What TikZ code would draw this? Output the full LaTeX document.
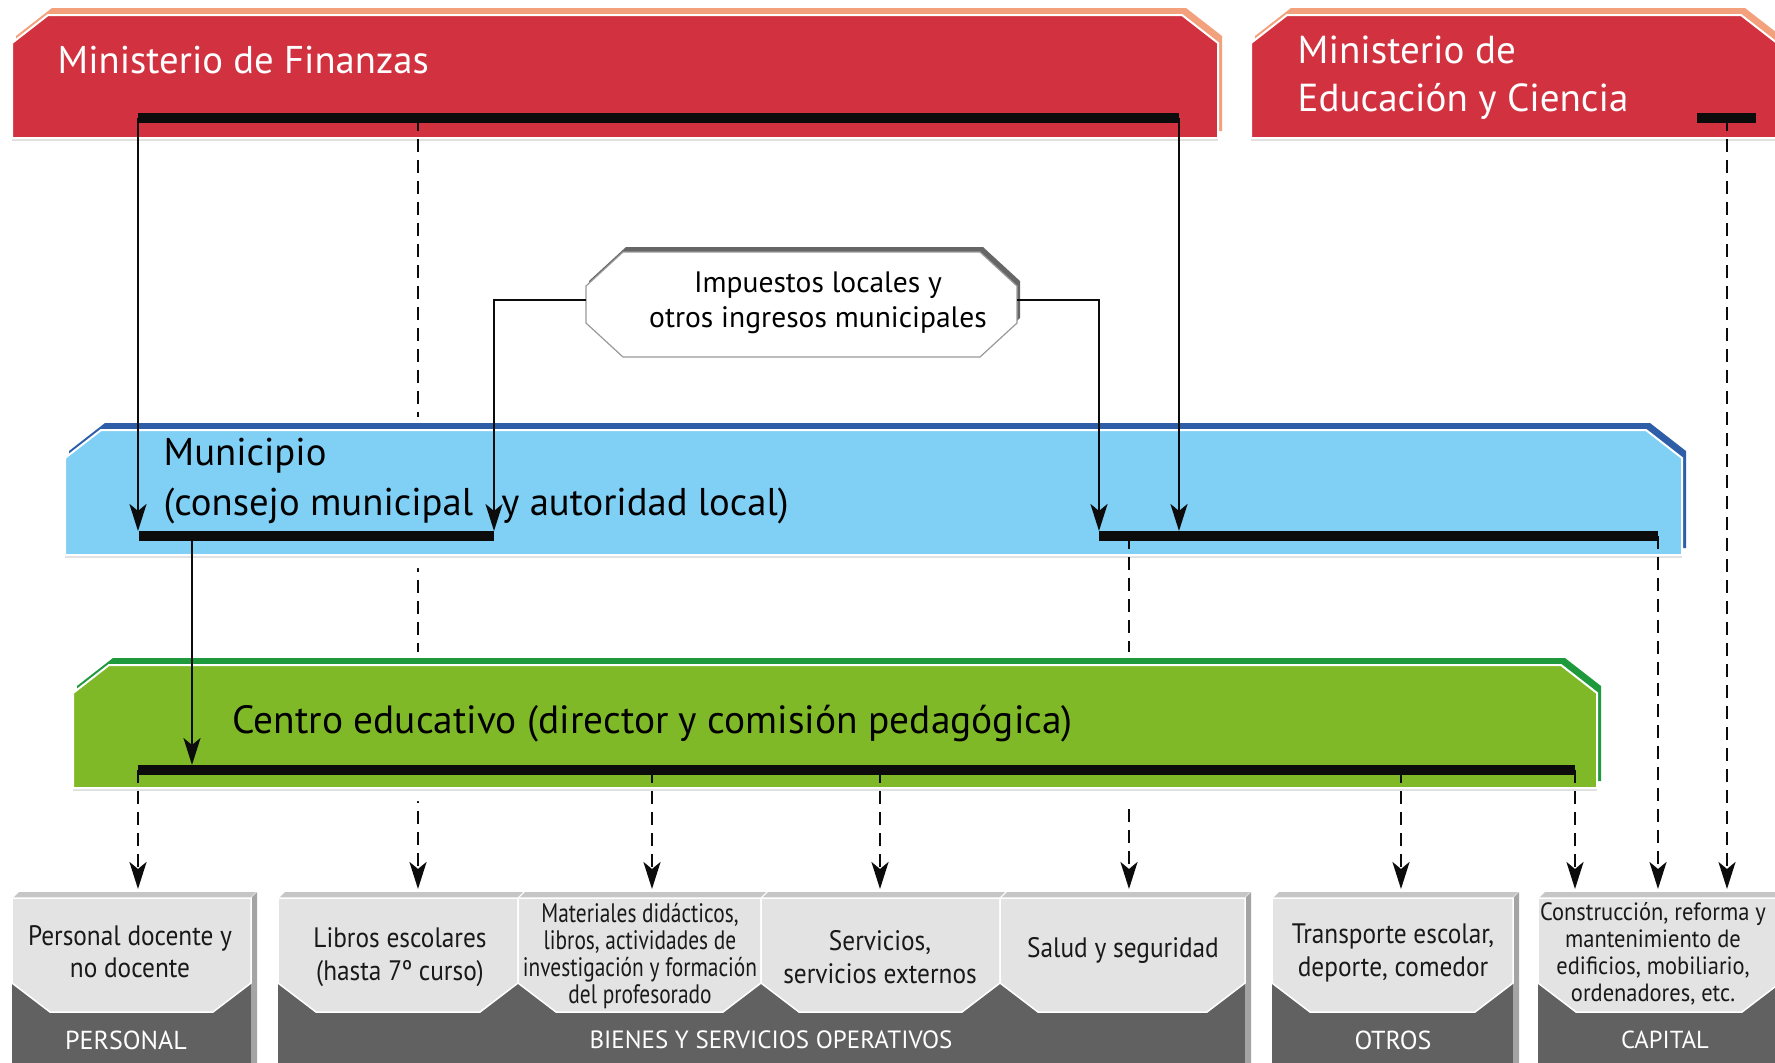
\documentclass[tikz,border=0pt]{standalone}
\usepackage{fontspec}
\setmainfont{PT Sans}
\newfontfamily\narrowfont[FakeStretch=0.9]{PT Sans}
\newfontfamily\narrowerfont[FakeStretch=0.8]{PT Sans}
\usetikzlibrary{arrows.meta}

\definecolor{finred}{HTML}{D2323F}
\definecolor{finedge}{HTML}{F3A07C}
\definecolor{munblue}{HTML}{80CFF4}
\definecolor{munedge}{HTML}{2F5EA8}
\definecolor{cengreen}{HTML}{7FB927}
\definecolor{cenedge}{HTML}{1E9A3C}
\definecolor{facegray}{HTML}{E3E3E3}
\definecolor{topgray}{HTML}{C6C6C6}
\definecolor{sidegray}{HTML}{A4A4A4}
\definecolor{bandgray}{HTML}{616161}
\definecolor{barblack}{HTML}{0C0C0C}

\tikzstyle{bar} = [line width=0.1cm, barblack]
\tikzstyle{flow} = [-{Stealth[length=0.27cm, width=0.17cm, inset=0.07cm]}, line width=0.028cm, barblack, shorten >=0.05cm]
\tikzstyle{fund} = [flow, dash pattern=on 0.13cm off 0.08cm]
\tikzstyle{bigtext} = [inner sep=0, align=left, font=\fontsize{11.2}{14.2}\selectfont]
\tikzstyle{taxtext} = [inner sep=0, align=center, font=\fontsize{8.4}{9.7}\selectfont]
\tikzstyle{costtext} = [inner sep=0, align=center, text=black!90, font=\narrowfont\fontsize{8}{9.2}\selectfont]
\tikzstyle{costlabel} = [inner sep=0, text=white, font=\fontsize{7.4}{9}\selectfont]

% band with chamfered top corners
\newcommand{\chamtop}[4]{(#1,#2+28) -- (#1+36,#2) -- (#3-36,#2) -- (#3,#2+28) -- (#3,#4) -- (#1,#4) -- cycle}
\newcommand{\chamall}[4]{(#1,#2+34) -- (#1+37,#2) -- (#3-37,#2) -- (#3,#2+34) -- (#3,#4-34) -- (#3-37,#4) -- (#1+37,#4) -- (#1,#4-34) -- cycle}
\newcommand{\band}[6]{%
  \draw[white, line width=0.26cm] \chamtop{#1}{#2}{#3}{#4};
  \fill[black!12] (#1,#4) rectangle (#3,#4+3);
  \fill[#6, shift={(4,-7)}] \chamtop{#1}{#2}{#3}{#4};
  \filldraw[fill=#5, draw=white, line width=0.02cm] \chamtop{#1}{#2}{#3}{#4};
}
% cost boxes at the bottom
\newcommand{\costgroup}[2]{%
  \fill[bandgray] (#1,898) rectangle (#2,1075);
  \fill[sidegray] (#2,898) -- (#2+6,892) -- (#2+6,1075) -- (#2,1075) -- cycle;
}
\newcommand{\costface}[2]{%
  \fill[topgray] (#1+1,898) -- (#1+7,892) -- (#2+5,892) -- (#2-1,898) -- cycle;
  \filldraw[fill=facegray, draw=white, line width=0.015cm] (#1,898) -- (#2,898) -- (#2,983) -- (#2-38,1012) -- (#1+38,1012) -- (#1,983) -- cycle;
}

\begin{document}
\begin{tikzpicture}[x=0.01cm, y=-0.01cm]
  \useasboundingbox (0,0) rectangle (1775,1062);
  \clip (0,0) rectangle (1775,1062);

  %cost boxes
  \costgroup{12}{251}
  \costgroup{278}{1245}
  \costgroup{1272}{1513}
  \costgroup{1538}{1780}
  \costface{12}{251}
  \costface{278}{518}
  \costface{518}{761}
  \costface{761}{1000}
  \costface{1000}{1245}
  \costface{1272}{1513}
  \costface{1538}{1780}
  \coordinate (gastos) at (0,894);

  %ministries
  \band{12}{15}{1218}{138}{finred}{finedge}
  \band{1251}{15}{1777}{138}{finred}{finedge}
  \coordinate (finL) at (138,118);
  \coordinate (finT) at (418,118);
  \coordinate (finR) at (1179,118);
  \coordinate (eduL) at (1697,118);
  \coordinate (eduT) at (1727,118);
  \coordinate (eduR) at (1756,118);

  %local taxes
  \fill[black!60, shift={(3,-5)}] \chamall{586}{252}{1017}{357};
  \filldraw[fill=white, draw=black!40, line width=0.012cm] \chamall{586}{252}{1017}{357};
  \coordinate (taxW) at (586,300);
  \coordinate (taxE) at (1017,300);

  \draw[fund] (finT) -- (finT |- gastos);

  %municipality
  \band{65}{430}{1682}{555}{munblue}{munedge}
  \coordinate (munL) at (139,536);
  \coordinate (munA) at (192,536);
  \coordinate (munM) at (494,536);
  \coordinate (munN) at (1099,536);
  \coordinate (munB) at (1129,536);
  \coordinate (munR) at (1658,536);

  \draw[fund] (munB) -- (munB |- gastos);
  \draw[fund] (munR) -- (munR |- gastos);

  %school
  \band{73}{665}{1597}{788}{cengreen}{cenedge}
  \coordinate (cenL) at (138,770);
  \coordinate (cenP) at (652,770);
  \coordinate (cenQ) at (880,770);
  \coordinate (cenS) at (1401,770);
  \coordinate (cenR) at (1575,770);

  %connectors
  \draw[flow] (finL) -- (finL |- munL);
  \draw[flow] (finR) -- (finR |- munN);
  \draw[flow] (taxW) -| (munM);
  \draw[flow] (taxE) -| (munN);
  \draw[flow] (munA) -- (munA |- cenL);
  \foreach \tap in {cenL, cenP, cenQ, cenS, cenR}
    \draw[fund] (\tap) -- (\tap |- gastos);
  \draw[fund] (eduT) -- (eduT |- gastos);

  \draw[bar] (finL) -- (finR);
  \draw[bar] (eduL) -- (eduR);
  \draw[bar] (munL) -- (munM);
  \draw[bar] (munN) -- (munR);
  \draw[bar] (cenL) -- (cenR);

  %texts
  \node[bigtext, text=white, anchor=base west, font=\fontsize{11}{14}\selectfont] (finText) at (57,73) {Ministerio de Finanzas};
  \node[bigtext, text=white, anchor=base west, font=\fontsize{11.1}{13.5}\selectfont] (eduText) at (1297,111) {Ministerio de\\Educación y Ciencia};
  \node[bigtext, anchor=base west, font=\fontsize{11}{14.2}\selectfont] (munText) at (163,515) {Municipio\\(consejo municipal\hspace{0.18cm} y autoridad local)};
  \node[bigtext, anchor=base west] (cenText) at (232,733) {Centro educativo (director y comisión pedagógica)};
  \node[taxtext, anchor=base] (taxText) at (818,327) {Impuestos locales y\\otros ingresos municipales};

  \node[costtext] (personal) at (130,952) {Personal docente y\\no docente};
  \node[costtext] (libros) at (400,957) {Libros escolares\\(hasta 7º curso)};
  \node[costtext, font=\narrowerfont\fontsize{7.6}{7.7}\selectfont] (materiales) at (640,956) {Materiales didácticos,\\libros, actividades de\\investigación y formación\\del profesorado};
  \node[costtext] (servicios) at (880,957) {Servicios,\\servicios externos};
  \node[costtext] (salud) at (1123,950) {Salud y seguridad};
  \node[costtext] (transporte) at (1393,953) {Transporte escolar,\\deporte, comedor};
  \node[costtext, font=\narrowfont\fontsize{7.1}{7.7}\selectfont] (capital) at (1653,954) {Construcción, reforma y\\mantenimiento de\\edificios, mobiliario,\\ordenadores, etc.};

  \node[costlabel] (personalLbl) at (126,1040) {PERSONAL};
  \node[costlabel, font=\fontsize{7.1}{9}\selectfont] (bienesLbl) at (771,1040) {BIENES Y SERVICIOS OPERATIVOS};
  \node[costlabel] (otrosLbl) at (1393,1040) {OTROS};
  \node[costlabel, font=\fontsize{7}{9}\selectfont] (capitalLbl) at (1665,1040) {CAPITAL};
\end{tikzpicture}
\end{document}
